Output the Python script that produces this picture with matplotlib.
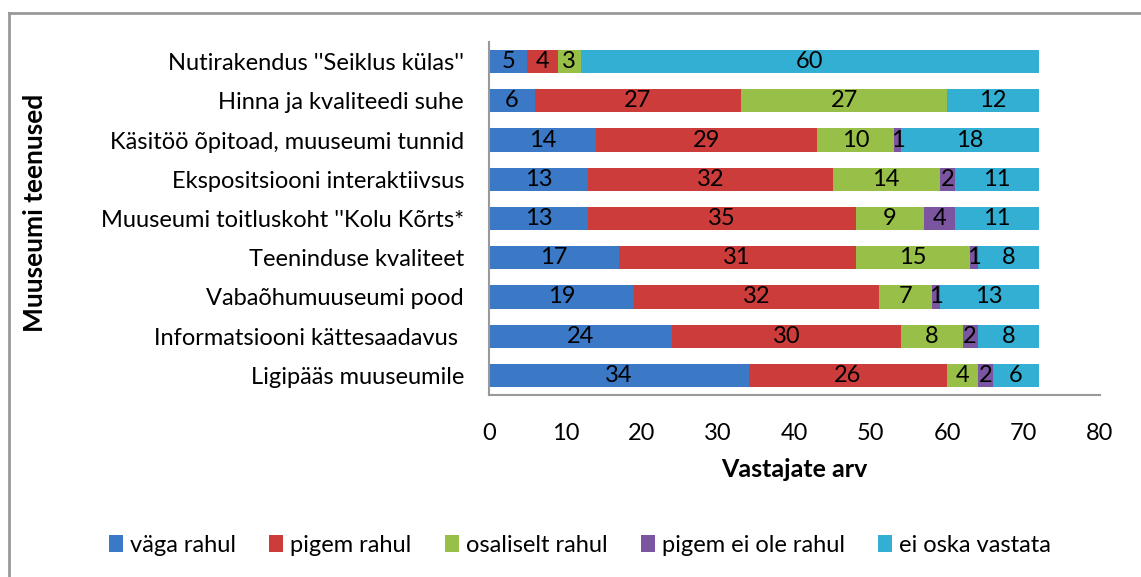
import matplotlib
matplotlib.use("Agg")
import matplotlib.pyplot as plt
import numpy as np
from matplotlib.lines import Line2D

plt.rcParams['font.family'] = ['Lato', 'DejaVu Sans']

categories = [
    "Ligipääs muuseumile",
    "Informatsiooni kättesaadavus ",
    "Vabaõhumuuseumi pood",
    "Teeninduse kvaliteet",
    "Muuseumi toitluskoht ''Kolu Kõrts*",
    "Ekspositsiooni interaktiivsus",
    "Käsitöö õpitoad, muuseumi tunnid",
    "Hinna ja kvaliteedi suhe",
    "Nutirakendus ''Seiklus külas''",
]
series_names = ["väga rahul", "pigem rahul", "osaliselt rahul", "pigem ei ole rahul", "ei oska vastata"]
vaga_rahul = [34, 24, 19, 17, 13, 13, 14, 6, 5]
pigem_rahul = [26, 30, 32, 31, 35, 32, 29, 27, 4]
osaliselt_rahul = [4, 8, 7, 15, 9, 14, 10, 27, 3]
pigem_ei_ole = [2, 2, 1, 1, 4, 2, 1, 0, 0]
ei_oska = [6, 8, 13, 8, 11, 11, 18, 12, 60]
colors = ["#3b78c6", "#cb3c3a", "#98bf47", "#7b559f", "#33afd3"]

series = [vaga_rahul, pigem_rahul, osaliselt_rahul, pigem_ei_ole, ei_oska]

fig = plt.figure(figsize=(11.41, 5.77), dpi=100)
ax = fig.add_axes([489 / 1141, 1 - 395 / 577, (1100 - 489) / 1141, (395 - 42) / 577])

y = np.arange(len(categories))
left = np.zeros(len(categories))
for name, vals, c in zip(series_names, series, colors):
    vals = np.array(vals, dtype=float)
    ax.barh(y, vals, left=left, height=0.59, color=c, label=name, edgecolor='none')
    for yi, l, v in zip(y, left, vals):
        if v > 0:
            ax.text(l + v / 2, yi, str(int(v)), ha='center', va='center', fontsize=17, color='black')
    left += vals

ax.set_xlim(0, 80)
ax.set_ylim(-0.5, len(categories) - 0.5)
ax.set_xticks(range(0, 81, 10))
ax.set_yticks(y)
ax.set_yticklabels(categories, fontsize=17)
ax.tick_params(axis='x', labelsize=17, length=0, pad=20)
ax.tick_params(axis='y', length=0, pad=18)
for s in ['top', 'right']:
    ax.spines[s].set_visible(False)
for s in ['left', 'bottom']:
    ax.spines[s].set_color('#999999')
    ax.spines[s].set_linewidth(1.5)

ax.set_xlabel("Vastajate arv", fontsize=18, fontweight='bold', labelpad=10)
fig.text(35 / 1141, 1 - 213 / 577, "Muuseumi teenused", rotation=90, ha='center', va='center',
         fontsize=19, fontweight='bold')

fig.legend(loc='center', bbox_to_anchor=(580 / 1141, 1 - 545 / 577), ncol=5, frameon=False,
           fontsize=17, handlelength=0.6, handleheight=0.7, handletextpad=0.3, columnspacing=1.4)

# outer chart border
fig.add_artist(Line2D([9 / 1141, 1], [1 - 13 / 577, 1 - 13 / 577], color='#999999', lw=2))
fig.add_artist(Line2D([9 / 1141, 9 / 1141], [0, 1 - 13 / 577], color='#999999', lw=2))

fig.savefig("out.png", dpi=100)
